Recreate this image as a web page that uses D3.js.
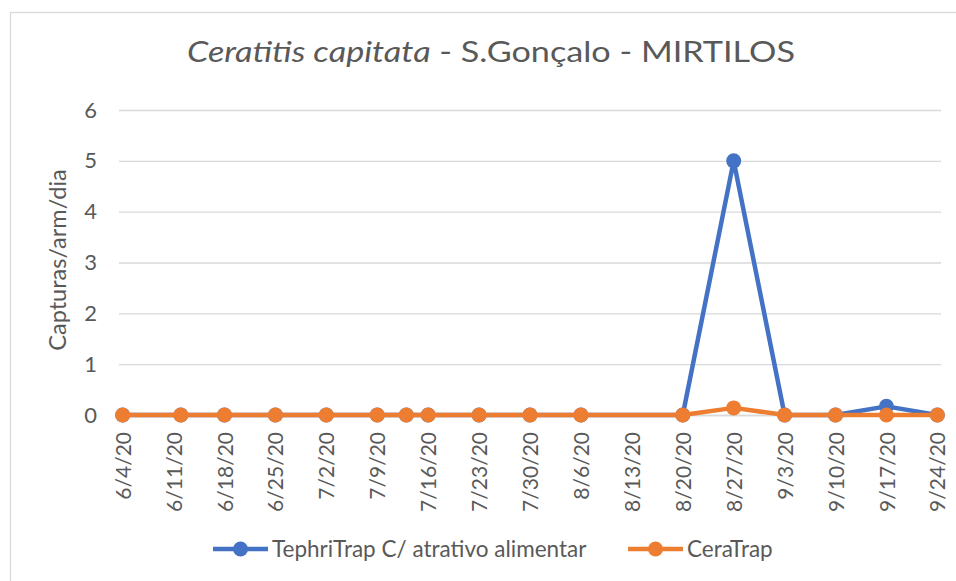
<!DOCTYPE html>
<html lang="pt">
<head>
    <meta charset="UTF-8">
    <title>Ceratitis capitata - S.Gonçalo - MIRTILOS</title>
    <script src="https://d3js.org/d3.v7.min.js"></script>
    <style>
        body {
            margin: 0;
            padding: 0;
            background-color: #fff;
            font-family: 'Lato', 'Carlito', sans-serif;
            overflow: hidden;
        }
        .tick-label {
            font-family: 'Lato', sans-serif;
            fill: #595959;
        }
        .grid line {
            stroke: #d9d9d9;
            stroke-width: 1.3;
        }
    </style>
</head>
<body>
    <div id="chart"></div>
    <script>
        // sample dates (one visit per week, plus one extra on 7/13)
        const dates = ["2020-06-04", "2020-06-12", "2020-06-18", "2020-06-25", "2020-07-02", "2020-07-09",
                       "2020-07-13", "2020-07-16", "2020-07-23", "2020-07-30", "2020-08-06", "2020-08-20",
                       "2020-08-27", "2020-09-03", "2020-09-10", "2020-09-17", "2020-09-24"];
        const tephriTrap = [0, 0, 0, 0, 0, 0, 0, 0, 0, 0, 0, 0, 5, 0, 0, 0.17, 0];
        const ceraTrap   = [0, 0, 0, 0, 0, 0, 0, 0, 0, 0, 0, 0, 0.14, 0, 0, 0, 0];

        const xTicks = ["2020-06-04", "2020-06-11", "2020-06-18", "2020-06-25", "2020-07-02", "2020-07-09",
                        "2020-07-16", "2020-07-23", "2020-07-30", "2020-08-06", "2020-08-13", "2020-08-20",
                        "2020-08-27", "2020-09-03", "2020-09-10", "2020-09-17", "2020-09-24"];
        const yTicks = [0, 1, 2, 3, 4, 5, 6];

        const seriesNames = ["TephriTrap C/ atrativo alimentar", "CeraTrap"];
        const colors = ["#4472c4", "#ed7d31"];

        const W = 956, H = 581;
        const plot = { left: 119, right: 941, top: 110, bottom: 415 };

        const parse = d3.utcParse("%Y-%m-%d");
        const day = 864e5;

        const svg = d3.select("#chart")
                      .append("svg")
                      .attr("width", W)
                      .attr("height", H);

        // chart frame (runs past the right / bottom edge of the picture)
        svg.append("rect")
           .attr("x", 10.5).attr("y", 12.5)
           .attr("width", 1000).attr("height", 700)
           .attr("fill", "#fff")
           .attr("stroke", "#d9d9d9")
           .attr("stroke-width", 1.3);

        // half a day of padding on each end, like an Excel date axis
        const x = d3.scaleUtc()
                    .domain([new Date(+parse(xTicks[0]) - day / 2), new Date(+parse(xTicks[xTicks.length - 1]) + day / 2)])
                    .range([plot.left, plot.right]);
        const y = d3.scaleLinear().domain([0, 6]).range([plot.bottom, plot.top]);

        // Title (the source picture is a little wider than tall, so stretch it to match)
        const title = svg.append("text")
                         .attr("text-anchor", "middle")
                         .style("font-size", "28px")
                         .style("fill", "#595959");
        title.append("tspan").style("font-style", "italic").text("Ceratitis capitata");
        title.append("tspan").text(" - S.Gonçalo - MIRTILOS");
        const titleW = title.node().getComputedTextLength();
        title.attr("transform", `translate(491,62) scale(${608 / titleW},1)`);

        // Gridlines
        svg.append("g").attr("class", "grid")
           .attr("transform", `translate(${plot.left},0)`)
           .call(d3.axisLeft(y).tickValues(yTicks).tickSize(-(plot.right - plot.left)).tickFormat(""))
           .call(g => g.select(".domain").remove());

        // Y tick labels
        svg.append("g")
           .attr("transform", `translate(${plot.left},0)`)
           .call(d3.axisLeft(y).tickValues(yTicks).tickFormat(d3.format("d")).tickSize(0).tickPadding(22))
           .call(g => g.select(".domain").remove())
           .selectAll("text")
           .attr("class", "tick-label")
           .style("font-size", "22px");

        // X axis labels (rotated)
        const fmt = d => `${d.getUTCMonth() + 1}/${d.getUTCDate()}/${String(d.getUTCFullYear()).slice(2)}`;
        const xAxis = svg.append("g")
           .attr("transform", `translate(0,${plot.bottom})`)
           .call(d3.axisBottom(x).tickValues(xTicks.map(parse)).tickFormat(fmt).tickSize(0));
        xAxis.select(".domain").attr("stroke", "#d9d9d9").attr("stroke-width", 1.3);
        xAxis.selectAll("text")
             .attr("class", "tick-label")
             .style("font-size", "21px")
             .attr("text-anchor", "end")
             .attr("transform", "rotate(-90)")
             .attr("x", -17)
             .attr("y", 0)
             .attr("dy", "0.36em");

        // Y axis title
        svg.append("text")
           .attr("transform", `translate(66,260) rotate(-90)`)
           .attr("text-anchor", "middle")
           .style("font-size", "23.5px")
           .style("fill", "#595959")
           .text("Capturas/arm/dia");

        // Lines + markers
        const series = [tephriTrap, ceraTrap].map((vals, i) => ({
            name: seriesNames[i],
            color: colors[i],
            points: dates.map((d, j) => ({ date: parse(d), value: vals[j] }))
        }));

        const line = d3.line().x(d => x(d.date)).y(d => y(d.value));

        series.forEach(s => {
            const g = svg.append("g");
            g.append("path")
             .datum(s.points)
             .attr("fill", "none")
             .attr("stroke", s.color)
             .attr("stroke-width", 4.5)
             .attr("stroke-linejoin", "round")
             .attr("d", line);
            g.selectAll("circle")
             .data(s.points)
             .enter()
             .append("circle")
             .attr("cx", d => x(d.date))
             .attr("cy", d => y(d.value))
             .attr("r", 7.5)
             .attr("fill", s.color);
        });

        // Legend
        const legendX = [213, 628];
        series.forEach((s, i) => {
            const lg = svg.append("g").attr("transform", `translate(${legendX[i]},549)`);
            lg.append("line")
              .attr("x1", 0).attr("x2", 55)
              .attr("stroke", s.color).attr("stroke-width", 4.5);
            lg.append("circle").attr("cx", 27.5).attr("r", 7.5).attr("fill", s.color);
            lg.append("text")
              .attr("x", 59)
              .attr("dy", "0.36em")
              .attr("class", "tick-label")
              .style("font-size", "22.5px")
              .text(s.name);
        });
    </script>
</body>
</html>
